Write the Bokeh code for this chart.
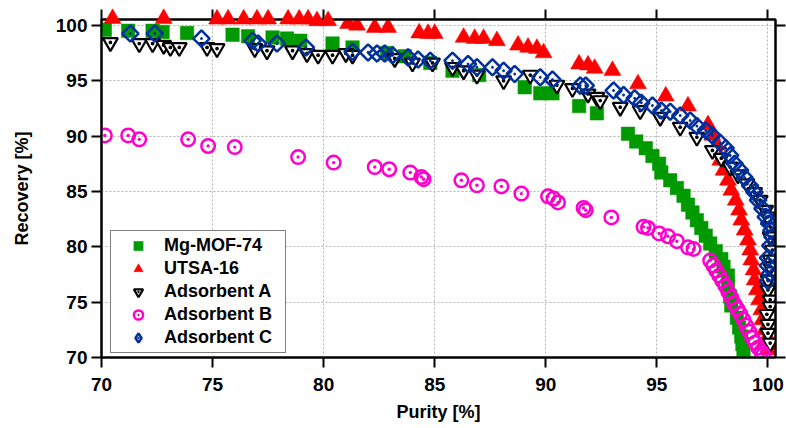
import numpy as np
from bokeh.plotting import figure
from bokeh.models import Range1d, FixedTicker, LinearAxis, Legend, LegendItem
from bokeh.embed import file_html
from bokeh.resources import INLINE

# ---------------- data (Purity %, Recovery %) ----------------
mg_purity = [70.15, 71.2, 72.3, 72.75, 73.85, 75.9, 76.6, 77.7, 78.35, 78.95, 80.4, 81.3,
             82.85, 83.65, 84.8, 85.8, 87.0, 89.05, 89.75, 90.3, 91.5, 92.3,
             93.7, 94.07, 94.5, 94.8, 95.1, 95.2, 95.6, 95.9, 96.2, 96.4, 96.6, 96.8,
             97.0, 97.2, 97.4, 97.65, 97.9, 98.0, 98.2, 98.2, 98.3, 98.35, 98.6, 98.7,
             98.8, 98.85, 98.9]
mg_recovery = [99.6, 99.5, 99.5, 99.4, 99.3, 99.15, 99.0, 98.9, 98.8, 98.6, 98.35, 98.0,
               97.5, 97.2, 96.6, 95.9, 95.5, 94.4, 93.85, 93.85, 92.7, 92.05,
               90.2, 89.5, 88.9, 88.2, 87.5, 86.7, 86.0, 85.3, 84.6, 83.8, 83.1, 82.4,
               81.7, 81.0, 80.3, 79.6, 78.9, 78.2, 77.4, 76.5, 75.5, 74.7, 73.6, 72.7,
               71.9, 71.2, 70.6]

utsa_purity = [70.5, 72.8, 75.2, 75.7, 76.4, 77.0, 77.5, 78.4, 78.9, 79.3, 79.7, 80.2,
               81.1, 81.5, 82.3, 82.9, 84.3, 84.7, 85.0, 86.3, 86.8, 87.2, 87.8, 88.75,
               89.2, 89.6, 89.9, 91.5, 91.9, 92.2, 93.0, 94.15, 95.4, 96.4, 97.3,
               97.5, 97.7, 97.85, 98.0, 98.2, 98.35, 98.55, 98.7, 98.8, 98.95, 99.1,
               99.2, 99.25, 99.35, 99.4, 99.5, 99.6, 99.7, 99.75, 99.85, 99.9, 100.0, 100.2]
utsa_recovery = [100.6, 100.6, 100.55, 100.55, 100.55, 100.55, 100.55, 100.55, 100.55, 100.55,
                 100.4, 100.4, 100.15, 100.0, 99.8, 99.8, 99.3, 99.25, 99.25, 98.9, 98.8,
                 98.8, 98.6, 98.2, 98.0, 97.9, 97.5, 96.5, 96.4, 96.1, 95.9, 94.7, 93.6,
                 92.7, 91.0, 90.05, 89.15, 87.8, 86.9, 86.0, 85.1, 84.2, 83.3, 82.4, 81.5,
                 80.6, 79.7, 78.8, 77.9, 77.0, 76.1, 75.2, 74.3, 73.4, 72.5, 71.6, 70.7, 71.1]

a_purity = [70.4, 71.7, 72.3, 72.8, 73.1, 73.5, 74.75, 75.2, 76.9, 77.45, 78.6, 79.25,
            79.75, 80.4, 81.0, 81.3, 83.2, 84.0, 84.9, 85.8, 86.3, 86.9, 88.1, 89.3,
            90.5, 91.2, 91.9, 92.3, 92.45, 93.35, 94.25, 95.15, 96.05, 96.8, 97.5, 97.9,
            98.3, 98.65, 99.05, 99.4, 99.65, 99.9, 100.0, 100.1, 100.1, 100.2, 100.1,
            100.1, 100.0, 100.0, 100.1, 100.1, 99.95, 100.0, 100.0, 100.1]
a_recovery = [98.45, 98.35, 98.35, 98.2, 98.0, 98.0, 98.0, 97.9, 97.9, 97.7, 97.7, 97.45,
              97.3, 97.3, 97.45, 97.3, 97.0, 96.6, 96.6, 96.2, 95.9, 95.5, 95.0, 95.5,
              94.6, 94.3, 93.8, 93.5, 93.2, 92.6, 92.3, 91.7, 90.8, 89.9, 88.7, 88.0,
              87.2, 86.5, 85.7, 84.9, 84.2, 83.3, 82.7, 81.8, 80.9, 79.7, 78.8,
              78.2, 77.0, 76.1, 75.2, 74.6, 73.9, 73.0, 72.2, 71.3]

b_purity = [70.15, 71.2, 71.7, 73.9, 74.8, 76.0, 78.85, 80.45, 82.3, 82.95, 83.9, 84.4,
            84.5, 86.2, 86.9, 88.0, 88.9, 90.1, 90.35, 90.55, 91.7, 91.8, 92.95, 94.4,
            94.6, 95.1, 95.5, 95.9, 96.4, 96.65,
            97.4, 97.54, 97.67, 97.81, 97.94, 98.08, 98.21, 98.35, 98.48, 98.62, 98.75,
            98.89, 99.02, 99.16, 99.29, 99.43, 99.56, 99.7, 99.79]
b_recovery = [90.05, 90.05, 89.7, 89.7, 89.1, 89.0, 88.1, 87.6, 87.2, 87.0, 86.7, 86.3,
              86.1, 86.0, 85.55, 85.45, 84.8, 84.55, 84.35, 84.0, 83.5, 83.3, 82.65, 81.8,
              81.7, 81.2, 80.95, 80.5, 79.95, 79.8,
              78.75, 78.3, 77.85, 77.39, 76.94, 76.49, 75.95, 75.41, 74.86, 74.41, 73.96,
              73.42, 72.88, 72.33, 71.79, 71.34, 70.89, 70.52, 70.25]

c_purity = [71.3, 72.4, 74.5, 76.8, 77.05, 77.9, 79.2, 81.3, 82.0, 82.4, 82.75, 83.1,
            83.8, 84.25, 84.8, 85.8, 86.5, 86.9, 87.6, 88.1, 88.6, 89.75, 90.3, 91.55,
            91.8, 93.05, 93.5, 94.0, 94.3, 94.8, 95.2, 95.6, 96.05, 96.5, 96.8, 97.2,
            97.5, 97.85, 98.1, 98.3, 98.5, 98.75, 98.95, 99.2, 99.4, 99.55, 99.75, 99.9,
            100.05, 100.15, 100.2, 100.1, 100.0, 100.0, 100.1, 100.0]
c_recovery = [99.25, 99.25, 98.8, 98.6, 98.35, 98.35, 98.0, 97.6, 97.55, 97.45, 97.45, 97.3,
              97.1, 96.9, 96.8, 96.8, 96.5, 96.2, 96.2, 95.9, 95.6, 95.3, 95.1, 94.55,
              94.55, 94.1, 93.7, 93.4, 93.0, 92.75, 92.3, 92.2, 91.85, 91.4, 90.9, 90.5,
              90.05, 89.4, 88.9, 88.25, 87.5, 86.9, 86.25, 85.5, 84.9, 84.2, 83.45, 82.7,
              82.1, 81.45, 80.9, 80.1, 79.0, 78.3, 77.6, 76.9]

x_ticks = [70, 75, 80, 85, 90, 95, 100]
y_ticks = [70, 75, 80, 85, 90, 95, 100]
labels = ["Mg-MOF-74", "UTSA-16", "Adsorbent A", "Adsorbent B", "Adsorbent C"]

FONT = "Liberation Sans"

p = figure(width=786, height=428, output_backend="svg", toolbar_location=None,
           x_range=Range1d(70, 100.34), y_range=Range1d(70, 100.52),
           min_border_left=101, min_border_right=11, min_border_top=19, min_border_bottom=71,
           background_fill_color="white", border_fill_color="white")
# an off-screen range used only by legend-symbol renderers
p.extra_x_ranges = {"legend_only": Range1d(1000, 1001)}

p.outline_line_color = "black"
p.outline_line_width = 2

for ax, ticks in ((p.xaxis[0], x_ticks), (p.yaxis[0], y_ticks)):
    ax.ticker = FixedTicker(ticks=ticks)
    ax.major_tick_out = 10
    ax.major_tick_in = 0
    ax.minor_tick_out = 0
    ax.minor_tick_in = 0
    ax.axis_line_width = 2
    ax.major_tick_line_width = 2
    ax.major_label_text_font = FONT
    ax.major_label_text_font_style = "bold"
    ax.major_label_text_font_size = "19px"
    ax.major_label_text_color = "black"
    ax.axis_label_text_font = FONT
    ax.axis_label_text_font_style = "bold"
    ax.axis_label_text_font_size = "18px"
    ax.axis_label_text_color = "black"

p.xaxis.axis_label = "Purity [%]"
p.yaxis.axis_label = "Recovery [%]"
p.xaxis.major_label_standoff = 10
p.xaxis.axis_label_standoff = 8
p.yaxis.major_label_standoff = 4
p.yaxis.axis_label_standoff = 21

for loc, ticks in (("above", x_ticks), ("right", y_ticks)):
    ax = LinearAxis(ticker=FixedTicker(ticks=ticks), major_label_text_font_size="1px",
                    major_label_text_color=None,
                    major_label_standoff=0, major_tick_out=10, major_tick_in=0,
                    minor_tick_out=0, minor_tick_in=0, axis_line_width=2,
                    major_tick_line_width=2)
    p.add_layout(ax, loc)

p.xgrid.ticker = FixedTicker(ticks=x_ticks)
p.ygrid.ticker = FixedTicker(ticks=y_ticks)
for g in (p.xgrid[0], p.ygrid[0]):
    g.grid_line_color = "#b4b4b4"
    g.grid_line_dash = "2 2"
    g.grid_line_width = 1

GREEN = "#009a00"
RED = "#ff0000"
MAGENTA = "#ff00cc"
BLUE = "#00309c"

r_mg = p.scatter(mg_purity, mg_recovery, marker="square", size=13.5,
                 fill_color=GREEN, line_color=GREEN, line_width=0.5)

up = np.array(utsa_purity)
ur = np.array(utsa_recovery)
top_mask = ur > 100.2
r_utsa = p.scatter(up[~top_mask], ur[~top_mask], marker="triangle", size=17,
                   fill_color=RED, line_color=RED, line_width=0.5)
p.scatter(up[top_mask], ur[top_mask], marker="triangle", size=17,
          fill_color=RED, line_color=RED, line_width=0.5, level="overlay")

r_a = p.scatter(a_purity, a_recovery, marker="triangle_dot", size=15, angle=np.pi,
                fill_color="white", line_color="black", line_width=2.2)
r_b = p.scatter(b_purity, b_recovery, marker="circle_dot", size=13.5,
                fill_color="white", fill_alpha=0.0, line_color=MAGENTA, line_width=2.5)
r_c = p.scatter(c_purity, c_recovery, marker="square_dot", size=11.5, angle=np.pi / 4,
                fill_color="white", fill_alpha=0.0, line_color=BLUE, line_width=2.5)

# legend-symbol renderers: same data, drawn on an off-screen range, so the legend
# shows the un-rotated symbol shapes of the reference
lg_a1 = p.scatter(a_purity, a_recovery, marker="inverted_triangle", size=15,
                  x_range_name="legend_only",
                  fill_color="white", line_color="black", line_width=2.2)
lg_a2 = p.scatter(a_purity, a_recovery, marker="dot", size=15, x_range_name="legend_only",
                  line_color="black", fill_color="black", line_width=2.2)
lg_c = p.scatter(c_purity, c_recovery, marker="diamond_dot", size=15,
                 x_range_name="legend_only",
                 fill_color="white", line_color=BLUE, line_width=2.5)

legend = Legend(items=[LegendItem(label=labels[0], renderers=[r_mg]),
                       LegendItem(label=labels[1], renderers=[r_utsa]),
                       LegendItem(label=labels[2], renderers=[lg_a1, lg_a2]),
                       LegendItem(label=labels[3], renderers=[r_b]),
                       LegendItem(label=labels[4], renderers=[lg_c])],
                location=(9, 4), padding=3, spacing=0, margin=0,
                glyph_width=48, glyph_height=23, label_standoff=2,
                label_width=118, label_height=23,
                label_text_font=FONT, label_text_font_style="bold",
                label_text_font_size="18px", label_text_color="black",
                border_line_color="black", border_line_width=1.5,
                background_fill_color="white", background_fill_alpha=1.0)
p.add_layout(legend)

open("out.html", "w").write(file_html(p, INLINE))
